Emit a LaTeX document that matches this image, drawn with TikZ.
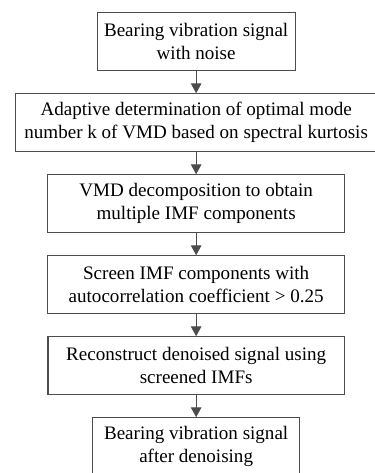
\documentclass[tikz,border=0pt]{standalone}
\usepackage{fontspec}
\setmainfont{Liberation Serif}
\usepackage{tikz}
\usetikzlibrary{arrows.meta}
\tikzstyle{stepbox}=[rectangle,draw=black!70,line width=0.8pt,align=center,minimum height=1.52cm,inner sep=0pt,font=\fontsize{14.35pt}{17.25pt}\selectfont]
\tikzstyle{edge} = [draw,line width=0.8pt,black!70,-{Triangle[width=8pt,length=7.5pt]}]

\begin{document}
\begin{tikzpicture}[scale=1]

    \useasboundingbox (0,0) rectangle (9.922,-12.515);

    % Process steps
    \foreach \pos/ \name/ \boxw/ \txt in {{(5.19,-1.098)/noisy/5.24/{Bearing vibration signal\\with noise}},
        {(5.19,-3.241)/kopt/9.58/{Adaptive determination of optimal mode\\number k of VMD based on spectral kurtosis}},
        {(5.19,-5.384)/vmd/7.86/{VMD decomposition to obtain\\multiple IMF components}},
        {(5.19,-7.527)/screen/7.86/{Screen IMF components with\\autocorrelation coefficient > 0.25}},
        {(5.19,-9.670)/recon/7.84/{Reconstruct denoised signal using\\screened IMFs}},
        {(5.19,-11.813)/clean/5.48/{Bearing vibration signal\\after denoising}}}
        \node[stepbox,minimum width=\boxw cm] (\name) at \pos {\txt};

    % Connect steps
    \foreach \source/ \dest in {noisy/kopt, kopt/vmd, vmd/screen, screen/recon, recon/clean}
        \path[edge] (\source) -- (\dest);

\end{tikzpicture}
\end{document}
